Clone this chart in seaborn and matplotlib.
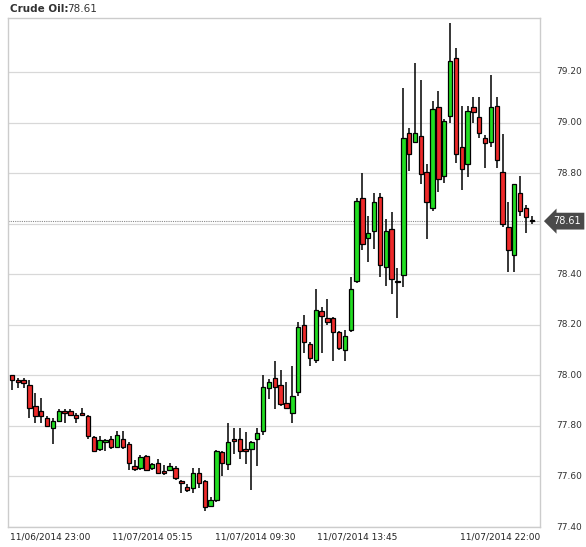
import matplotlib
matplotlib.use("Agg")
import matplotlib.pyplot as plt
import matplotlib.transforms as mtransforms
import seaborn as sns
import numpy as np
import pandas as pd

opens = [78.00,77.98,77.98,77.96,77.88,77.86,77.83,77.79,77.82,77.86,77.86,77.845,77.85,77.84,77.755,77.71,77.735,77.75,77.715,77.75,
         77.73,77.64,77.635,77.68,77.635,77.655,77.62,77.625,77.635,77.58,77.56,77.555,77.615,77.58,77.485,77.505,77.695,77.65,77.75,77.75,
         77.71,77.71,77.75,77.78,77.95,77.99,77.96,77.89,77.85,77.935,78.20,78.125,78.06,78.255,78.225,78.225,78.17,78.10,78.18,78.375,
         78.70,78.545,78.57,78.705,78.43,78.58,78.37,78.395,78.96,78.925,78.945,78.805,78.66,79.06,78.79,79.025,79.255,78.905,78.835,79.06,
         79.02,78.94,78.925,79.065,78.805,78.585,78.475,78.72,78.66,78.615]
highs = [78.00,77.99,77.99,77.98,77.93,77.91,77.84,77.83,77.865,77.865,77.865,77.85,77.87,77.845,77.76,77.76,77.75,77.76,77.78,77.78,
         77.735,77.665,77.685,77.685,77.655,77.67,77.645,77.655,77.64,77.585,77.57,77.635,77.635,77.585,77.52,77.705,77.70,77.81,77.79,77.79,
         77.775,77.74,77.79,78.00,77.985,78.055,78.02,77.975,78.035,78.21,78.24,78.13,78.34,78.27,78.30,78.23,78.175,78.18,78.39,78.70,
         78.80,78.63,78.72,78.72,78.62,78.645,78.425,79.135,78.98,79.235,79.17,78.835,79.085,79.125,79.015,79.395,79.295,79.065,79.065,79.10,
         79.10,78.95,79.19,79.10,78.955,78.685,78.755,78.79,78.675,78.63]
lows = [77.94,77.95,77.95,77.83,77.81,77.81,77.80,77.73,77.82,77.81,77.845,77.81,77.845,77.75,77.70,77.70,77.70,77.71,77.715,77.71,
        77.625,77.62,77.625,77.62,77.625,77.61,77.605,77.62,77.585,77.535,77.54,77.535,77.555,77.465,77.48,77.50,77.60,77.625,77.69,77.67,
        77.65,77.545,77.64,77.765,77.905,77.865,77.88,77.865,77.81,77.92,78.09,78.035,78.05,78.09,78.20,78.055,78.10,78.055,78.17,78.365,
        78.495,78.45,78.50,78.39,78.355,78.32,78.225,78.35,78.81,78.92,78.755,78.54,78.65,78.725,78.76,79.00,78.84,78.735,78.785,79.00,
        78.94,78.82,78.905,78.82,78.585,78.41,78.41,78.63,78.565,78.60]
closes = [77.98,77.975,77.97,77.87,77.84,77.84,77.80,77.82,77.86,77.85,77.845,77.83,77.845,77.76,77.70,77.745,77.745,77.715,77.765,77.715,
          77.655,77.63,77.675,77.625,77.65,77.615,77.615,77.64,77.595,77.575,77.545,77.615,77.575,77.48,77.505,77.70,77.655,77.735,77.74,77.70,
          77.70,77.735,77.77,77.955,77.975,77.955,77.885,77.87,77.92,78.19,78.13,78.07,78.26,78.235,78.21,78.17,78.11,78.155,78.34,78.69,
          78.52,78.565,78.685,78.435,78.57,78.38,78.375,78.94,78.875,78.96,78.795,78.685,79.055,78.775,79.005,79.245,78.875,78.815,79.045,79.04,
          78.96,78.92,79.06,78.85,78.60,78.495,78.755,78.65,78.625,78.61]
last_price = 78.61
y_ticks = [77.40,77.60,77.80,78.00,78.20,78.40,78.60,78.80,79.00,79.20]
y_tick_labels_shown = [77.40,77.60,77.80,78.00,78.20,78.40,78.80,79.00,79.20]
x_labels = ["11/06/2014 23:00","11/07/2014 05:15","11/07/2014 09:30","11/07/2014 13:45","11/07/2014 22:00"]
x_label_pos = [6.5, 24, 41.6, 59.1, 87.6]

df = pd.DataFrame({"o": opens, "h": highs, "l": lows, "c": closes})
df["i"] = np.arange(len(df))
df["up"] = df["c"] >= df["o"]

sns.set_style("white")
plt.rcParams["font.family"] = ["DejaVu Sans"]
fig = plt.figure(figsize=(5.86, 5.47), dpi=100)
ax = fig.add_axes([8/586, 20/547, 532/586, 509/547])

for t in y_ticks:
    ax.axhline(t, color="#d8d8d8", lw=0.9, zorder=0)
ax.axhline(last_price, color="#888888", lw=0.8, ls=(0, (1, 1)), zorder=1)

ax.vlines(df["i"], df["l"], df["h"], color="black", lw=1.1, zorder=2)
bottom = np.minimum(df["o"], df["c"])
height = np.maximum(np.abs(df["c"] - df["o"]), 0.004)
colors = np.where(df["up"], "#22dd22", "#ee2a2a")
ax.bar(df["i"], height, bottom=bottom, width=0.75, color=colors, edgecolor="black", linewidth=0.9, zorder=3)

ax.set_xlim(-0.68, 90.4)
ax.set_ylim(77.40, 79.4136)
ax.set_xticks([])
ax.set_yticks([])
for s in ax.spines.values():
    s.set_color("#cccccc")
    s.set_linewidth(1)

ty = mtransforms.blended_transform_factory(ax.transAxes, ax.transData)
for t in y_tick_labels_shown:
    ax.text(1.03, t, f"{t:.2f}", transform=ty, fontsize=6.5, color="#333333", va="center", ha="left", clip_on=False)

trans = mtransforms.blended_transform_factory(ax.transData, fig.transFigure)
for p, lab in zip(x_label_pos, x_labels):
    ha = "center" if p < 80 else "right"
    xx = p if p < 80 else 90.4
    ax.text(xx, 10/547, lab, transform=trans, fontsize=6.5, color="#222222", ha=ha, va="center")

ax.text(1.025, last_price, "78.61", transform=ty, fontsize=7, color="white", va="center", ha="left",
        bbox=dict(boxstyle="larrow,pad=0.35", fc="#4a4a4a", ec="none"), clip_on=False, zorder=5)

fig.text(10/586, 1 - 9/547, "Crude Oil:", fontsize=7.5, fontweight="bold", color="#333333", va="center", ha="left")
fig.text(67/586, 1 - 9/547, "78.61", fontsize=7.5, color="#333333", va="center", ha="left")

fig.savefig("out.png", dpi=100, facecolor="white")
